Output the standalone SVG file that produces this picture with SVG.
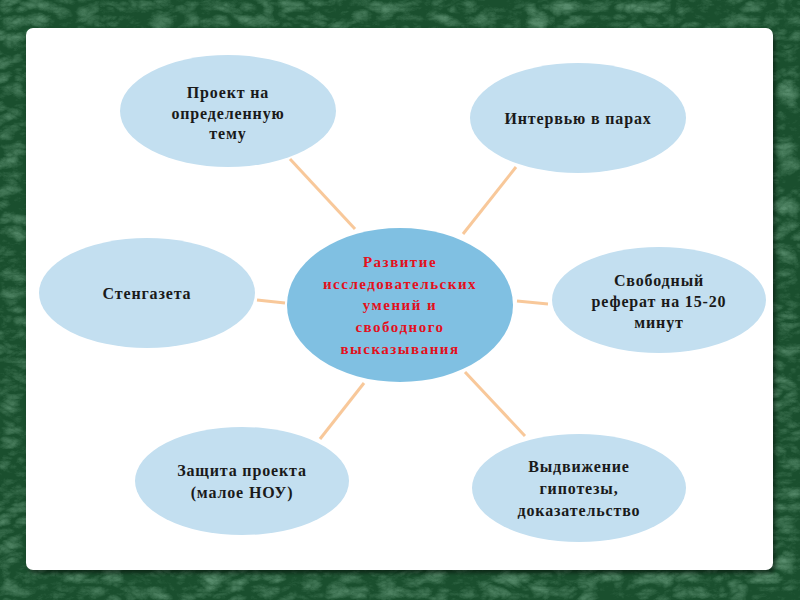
<svg xmlns="http://www.w3.org/2000/svg" width="800" height="600" viewBox="0 0 800 600">
  <defs>
    <filter id="marble" x="0" y="0" width="100%" height="100%">
      <feTurbulence type="turbulence" baseFrequency="0.04 0.07" numOctaves="5" seed="11" result="n"/>
      <feColorMatrix in="n" type="matrix" values="0 0 0 0 0.30  0 0 0 0 0.58  0 0 0 0 0.40  1.5 0 0 0 -0.3" result="c"/>
    </filter>
    <filter id="shadow" x="-5%" y="-5%" width="110%" height="110%">
      <feGaussianBlur stdDeviation="2"/>
    </filter>
    <style>
      .node { fill: #c3dff0; }
      .center { fill: #80c0e2; }
      .lbl { font-family: "Liberation Serif", "Times New Roman", serif; font-weight: bold; font-size: 16px; fill: #1a1a1a; text-anchor: middle; letter-spacing: 0.85px; }
      .ctr { font-family: "Liberation Serif", "Times New Roman", serif; font-weight: bold; font-size: 15px; fill: #e3101c; text-anchor: middle; letter-spacing: 1.5px; }
      .conn line { stroke: #f8c89a; stroke-width: 3; stroke-linecap: butt; }
    </style>
  </defs>

  <!-- background -->
  <rect x="0" y="0" width="800" height="600" fill="#1a4f2e"/>
  <rect x="0" y="0" width="800" height="600" filter="url(#marble)" opacity="0.5"/>

  <!-- panel -->
  <rect x="28" y="31" width="747" height="542" rx="7" fill="#000" opacity="0.5" filter="url(#shadow)"/>
  <rect x="26" y="28" width="747" height="542" rx="7" fill="#ffffff"/>

  <!-- connectors -->
  <g id="connectors" class="conn">
    <line x1="290" y1="159" x2="355" y2="229"/>
    <line x1="516" y1="167" x2="463" y2="234"/>
    <line x1="257" y1="300" x2="285" y2="303"/>
    <line x1="517" y1="301" x2="548" y2="304"/>
    <line x1="320" y1="439" x2="364" y2="383"/>
    <line x1="465" y1="372" x2="525" y2="436"/>
  </g>

  <g id="node-center">
    <ellipse class="center" cx="400" cy="305" rx="113" ry="77"/>
    <text class="ctr" x="400" y="267">Развитие</text>
    <text class="ctr" x="400" y="289">исследовательских</text>
    <text class="ctr" x="400" y="310">умений и</text>
    <text class="ctr" x="400" y="332">свободного</text>
    <text class="ctr" x="400" y="354">высказывания</text>
  </g>

  <g id="node-proekt">
    <ellipse class="node" cx="228" cy="111" rx="108" ry="56"/>
    <text class="lbl" x="228" y="98">Проект на</text>
    <text class="lbl" x="228" y="119">определенную</text>
    <text class="lbl" x="228" y="139">тему</text>
  </g>

  <g id="node-interview">
    <ellipse class="node" cx="578" cy="118" rx="108" ry="55"/>
    <text class="lbl" x="578" y="124">Интервью в парах</text>
  </g>

  <g id="node-stengazeta">
    <ellipse class="node" cx="147" cy="293" rx="108" ry="55"/>
    <text class="lbl" x="147" y="299">Стенгазета</text>
  </g>

  <g id="node-referat">
    <ellipse class="node" cx="659" cy="300" rx="107" ry="53"/>
    <text class="lbl" x="659" y="286">Свободный</text>
    <text class="lbl" x="659" y="307">реферат на 15-20</text>
    <text class="lbl" x="659" y="328">минут</text>
  </g>

  <g id="node-zashchita">
    <ellipse class="node" cx="242" cy="481" rx="107" ry="54"/>
    <text class="lbl" x="242" y="476">Защита проекта</text>
    <text class="lbl" x="242" y="498">(малое НОУ)</text>
  </g>

  <g id="node-gipotezy">
    <ellipse class="node" cx="579" cy="488" rx="107" ry="54"/>
    <text class="lbl" x="579" y="472">Выдвижение</text>
    <text class="lbl" x="579" y="494">гипотезы,</text>
    <text class="lbl" x="579" y="516">доказательство</text>
  </g>
</svg>
